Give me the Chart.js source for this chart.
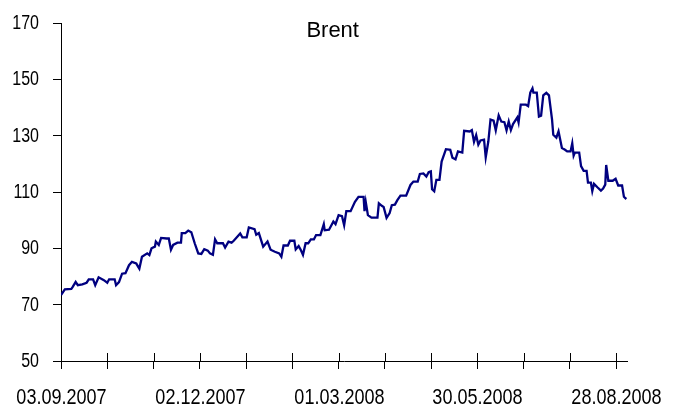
<!DOCTYPE html>
<html>
<head>
<meta charset="utf-8">
<script src="https://cdn.jsdelivr.net/npm/chart.js@4/dist/chart.umd.min.js"></script>
<style>
  html, body { margin: 0; padding: 0; background: #fff; }
  #wrap { width: 678px; height: 409px; position: relative; }
</style>
</head>
<body>
<div id="wrap"><canvas id="brentChart"></canvas></div>
<script>
// Brent price, days counted from 03.09.2007
const days = [
  0, 2.5, 6.7, 7.6, 9.5, 10.9, 13.8, 16.6, 18.0, 20.8, 22.2, 24.4, 27.8, 30.0, 31.2, 34.8, 35.7, 37.6, 39.6, 41.8,
  44.1, 46.0, 48.8, 50.8, 52.5, 55.9, 57.3, 58.7, 60.9, 61.5, 63.4, 64.9, 68.5, 69.9, 71.3, 72.7, 75.5, 77.8, 78.3, 80.6,
  82.5, 84.5, 86.7, 89.0, 91.0, 92.9, 95.2, 96.6, 98.5, 99.9, 101.3, 105.0, 106.4, 108.6, 110.6, 112.0, 114.3, 116.2, 117.6, 120.4,
  121.8, 125.5, 126.6, 128.3, 131.1, 133.9, 135.9, 138.7, 141.5, 142.9, 144.3, 147.1, 148.5, 151.3, 152.2, 154.1, 155.5, 156.9, 158.6, 160.3,
  162.0, 164.0, 165.4, 168.2, 170.4, 171.0, 173.8, 176.6, 178.0, 180.0, 182.2, 183.6, 185.0, 187.8, 190.6, 192.9, 196.2, 196.8, 197.6, 199.0,
  201.3, 205.2, 206.1, 208.0, 209.2, 211.1, 213.1, 214.5, 216.5, 218.1, 220.1, 223.8, 226.6, 228.5, 231.3, 232.7, 235.0, 236.9, 238.4, 239.8,
  240.6, 242.0, 243.4, 245.4, 246.8, 249.6, 252.4, 253.8, 255.8, 257.4, 260.2, 261.4, 265.0, 266.4, 267.8, 269.2, 270.6, 272.0, 274.3, 275.4,
  277.1, 278.5, 280.5, 281.9, 283.8, 285.5, 287.5, 288.9, 290.3, 291.7, 293.1, 295.9, 296.7, 298.1, 301.5, 302.9, 304.3, 305.7, 306.3, 308.5,
  309.9, 311.3, 312.7, 314.7, 316.4, 318.4, 319.2, 321.2, 322.6, 324.8, 326.8, 328.2, 330.4, 331.5, 332.4, 333.2, 336.0, 337.2, 338.9, 340.8,
  341.7, 343.6, 344.5, 345.6, 347.8, 350.1, 351.5, 352.9, 353.5, 354.9, 357.7, 359.6, 361.3, 363.8, 365.0, 366.6
];
const prices = [
  73.4, 75.4, 75.6, 76.3, 78.1, 76.9, 77.2, 77.8, 79.0, 79.0, 76.9, 79.7, 78.7, 77.8, 79.0, 79.0, 76.9, 78.0, 81.0, 81.2,
  84.0, 85.2, 84.6, 82.8, 87.0, 88.2, 87.6, 90.0, 90.6, 92.4, 91.2, 93.7, 93.5, 93.5, 89.5, 91.2, 92.0, 92.0, 95.4, 95.4,
  96.3, 95.7, 91.8, 88.2, 88.0, 89.7, 89.2, 88.2, 87.7, 93.2, 91.8, 91.8, 90.3, 92.4, 92.0, 92.7, 94.1, 95.3, 93.9, 93.9,
  97.4, 96.8, 94.8, 95.4, 90.6, 92.4, 89.5, 88.8, 88.2, 87.0, 91.0, 91.0, 92.7, 92.7, 89.6, 90.8, 89.4, 87.7, 91.8, 91.8,
  93.2, 93.2, 94.7, 94.7, 98.6, 96.4, 96.6, 99.5, 98.6, 101.8, 101.4, 98.2, 103.2, 103.2, 106.5, 108.3, 108.3, 103.2, 106.5, 101.8,
  100.9, 100.9, 106.0, 105.1, 104.7, 100.8, 102.5, 105.3, 105.5, 107.1, 108.7, 108.7, 112.5, 113.7, 113.7, 116.4, 116.6, 115.5, 117.0, 117.3,
  111.0, 110.3, 114.3, 114.3, 120.8, 125.2, 125.0, 122.2, 121.6, 124.4, 124.0, 131.7, 131.5, 132.0, 127.8, 130.2, 126.8, 128.3, 128.6, 122.3,
  128.0, 135.7, 135.3, 131.9, 137.2, 135.0, 134.8, 131.9, 135.0, 132.0, 134.1, 136.5, 134.7, 141.0, 141.0, 140.5, 145.3, 146.8, 145.3, 145.3,
  136.8, 137.1, 144.3, 145.2, 144.3, 135.7, 130.3, 129.3, 131.5, 125.6, 125.0, 124.4, 124.4, 127.3, 122.9, 124.0, 124.0, 119.2, 117.5, 117.5,
  113.3, 113.3, 110.3, 112.9, 111.7, 110.5, 111.2, 112.6, 119.6, 114.0, 114.0, 114.7, 112.3, 112.3, 108.3, 107.5
];
const tickLabels = ["03.09.2007", "02.12.2007", "01.03.2008", "30.05.2008", "28.08.2008"];
const yTicks = [50, 70, 90, 110, 130, 150, 170];

const FONT = "'Liberation Sans', Arial, sans-serif";
const SQUEEZE = 0.82; // the original uses a narrow face

// condensed tick labels, x tick marks crossing the axis, title inside the plot
const extras = {
  id: "extras",
  afterDraw(chart) {
    const { ctx, chartArea, scales } = chart;
    ctx.save();
    ctx.strokeStyle = "#000";
    ctx.lineWidth = 1;
    ctx.fillStyle = "#000";

    const drawText = (txt, x, y, size, align) => {
      ctx.save();
      ctx.font = size + "px " + FONT;
      ctx.textAlign = align;
      ctx.textBaseline = "alphabetic";
      ctx.translate(x, y);
      ctx.scale(SQUEEZE, 1);
      ctx.fillText(txt, 0, 0);
      ctx.restore();
    };

    scales.x.ticks.forEach((t, i) => {
      const x = Math.round(scales.x.getPixelForTick(i)) + 0.5;
      ctx.beginPath();
      ctx.moveTo(x, chartArea.bottom - 8);
      ctx.lineTo(x, chartArea.bottom);
      ctx.stroke();
      if (t.value % 90 === 0) {
        drawText(tickLabels[t.value / 90], x, chartArea.bottom + 43, 22, "center");
      }
    });

    scales.y.ticks.forEach((t, i) => {
      const y = scales.y.getPixelForTick(i);
      drawText(String(t.value), chartArea.left - 22, y + 6, 19.5, "right");
    });

    ctx.font = "22px " + FONT;
    ctx.textAlign = "center";
    ctx.textBaseline = "alphabetic";
    ctx.fillText("Brent", chartArea.left + chartArea.width * 0.48, chartArea.top + 14);
    ctx.restore();
  },
};

new Chart(document.getElementById("brentChart"), {
  type: "line",
  data: {
    datasets: [
      {
        label: "Brent",
        data: days.map((d, i) => ({ x: d, y: prices[i] })),
        borderColor: "#000080",
        borderWidth: 2.3,
        pointRadius: 0,
        tension: 0,
        fill: false,
      },
    ],
  },
  options: {
    responsive: true,
    maintainAspectRatio: false,
    animation: false,
    layout: { padding: { left: 0, right: 51, top: 23, bottom: 0 } },
    plugins: { legend: { display: false }, tooltip: { enabled: false } },
    scales: {
      x: {
        type: "linear",
        min: 0,
        max: 367,
        afterFit: (s) => { s.height = 48; },
        border: { display: true, color: "#000", width: 1 },
        grid: { display: true, drawOnChartArea: false, drawTicks: true, tickLength: 8, color: "#000" },
        ticks: {
          display: false,
          stepSize: 30,
          includeBounds: false,
          autoSkip: false,
        },
      },
      y: {
        min: yTicks[0],
        max: yTicks[yTicks.length - 1],
        afterFit: (s) => { s.width = 61; },
        border: { display: true, color: "#000", width: 1 },
        grid: { display: true, drawOnChartArea: false, drawTicks: true, tickLength: 8, color: "#000" },
        ticks: { display: false, stepSize: 20 },
      },
    },
  },
  plugins: [extras],
});
</script>
</body>
</html>
